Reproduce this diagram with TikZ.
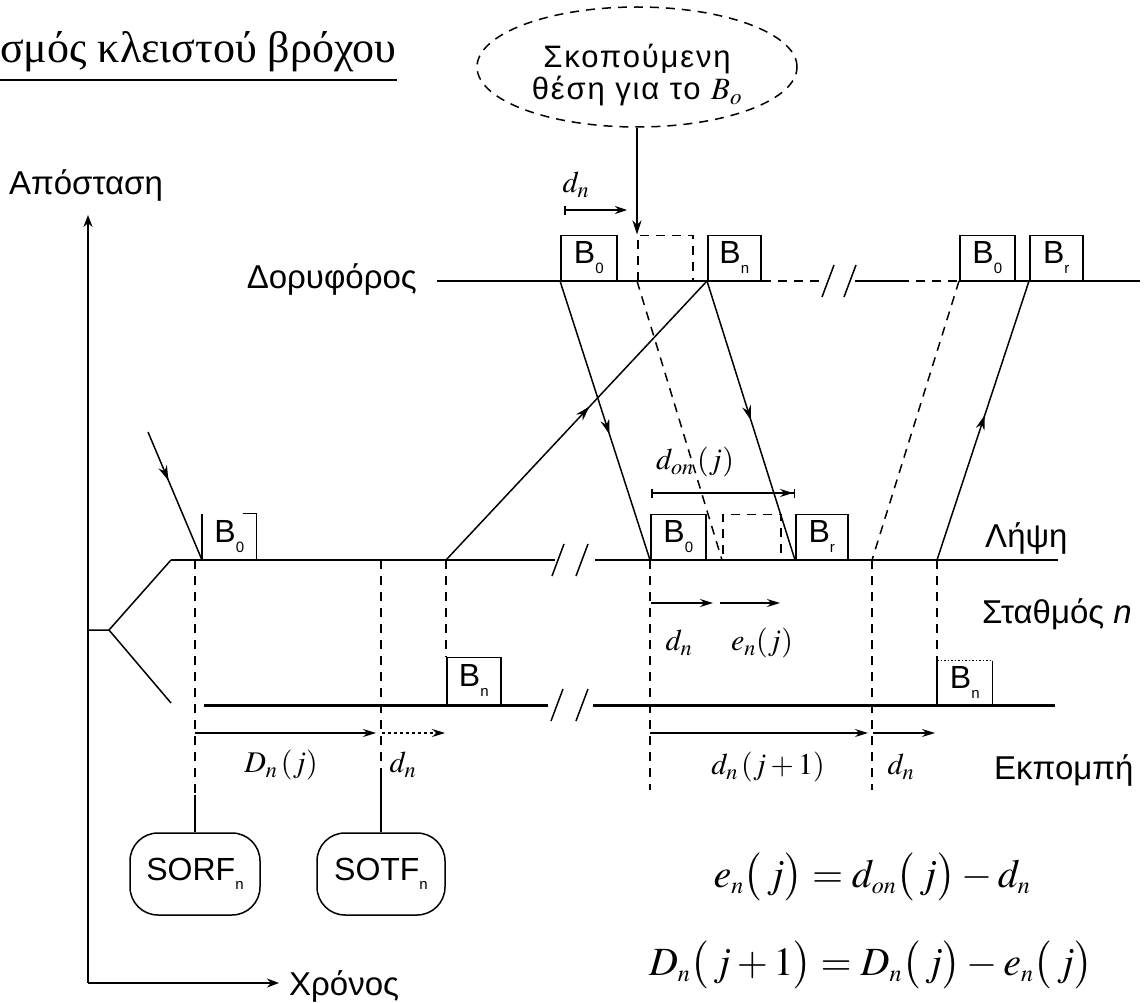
\documentclass[tikz,border=0pt]{standalone}
\usepackage{mathptmx}
\usepackage{fontspec}
\setmainfont{Liberation Serif}
\setsansfont{Liberation Sans}
\newfontfamily\widesans[LetterSpace=6]{Liberation Sans}
\usetikzlibrary{positioning, arrows.meta, shapes.geometric, decorations.markings}
\newcommand\ssub[1]{\raisebox{-0.3em}{\fontsize{15}{15}\selectfont #1}}
\tikzset{
    ln/.style={line width=1.5pt},
    dsh/.style={line width=1.5pt, dash pattern=on 9pt off 7pt},
    thickln/.style={line width=3pt},
    lbl/.style={font=\fontsize{33}{38}\selectfont\sffamily, inner sep=0pt},
    mlbl/.style={font=\fontsize{30}{36}\selectfont, inner sep=0pt},
    eqn/.style={font=\fontsize{40}{46}\selectfont, inner sep=0pt},
    bbox/.style={draw, line width=1.5pt, minimum width=#1, minimum height=45pt, inner sep=0pt,
        anchor=south west, font=\fontsize{32}{32}\selectfont\sffamily},
    fbox/.style={draw, line width=1.5pt, rounded corners=28pt, minimum width=130pt, minimum height=82pt,
        inner sep=0pt, font=\fontsize{32}{32}\selectfont\sffamily},
    arr/.style={line width=1.5pt, -{Stealth[length=13pt, width=8pt]}},
    marr/.style={postaction={decorate}, decoration={markings,
        mark=at position #1 with {\arrow{Stealth[length=15pt, width=9pt]}}}}
}
\begin{document}
\begin{tikzpicture}[x=1pt, y=-1pt]
    \useasboundingbox (0,0) rectangle (1145,1003);
    % title
    \node[font=\fontsize{44}{50}\selectfont, inner sep=0pt, anchor=base west] (title) at (0,63)
      {σμός κλειστού βρόχου};
    \draw[line width=2.5pt] ([yshift=-17pt]title.base west) -- ([yshift=-17pt]title.base east);
    % axes
    \coordinate (O) at (88,983);
    \draw[line width=2pt, -{Stealth[length=12pt, width=9pt]}] (O) -- (88,215) coordinate (ytop);
    \draw[line width=2pt, -{Stealth[length=12pt, width=9pt]}] (O) -- (279,983) coordinate (xend);
    \node[lbl, anchor=base] (dist) at (86,195) {Απόσταση};
    \node[lbl, anchor=base west] (time) at (289,995) {Χρόνος};
    \node[lbl, anchor=base east] (sat) at (417,288) {Δορυφόρος};
    \node[lbl, anchor=base west] (rx) at (985,547) {Λήψη};
    \node[lbl, anchor=base west] (stn) at (982,623) {Σταθμός \textit{n}};
    \node[lbl, anchor=base west] (tx) at (994,779) {Εκπομπή};
    % target ellipse
    \node[ellipse, draw, dsh, minimum width=320pt, minimum height=120pt, inner sep=0pt] (goal) at (637,67) {};
    \node[align=center, inner sep=0pt, font=\fontsize{31}{32}\selectfont\widesans] (goaltxt)
      at ([yshift=-8pt]goal.center) {Σκοπούμενη\\θέση για το $B_o$};
    % satellite boxes
    \node[bbox=56] (s0) at (560,281) {B\ssub{0}};
    \node[bbox=55, dsh] (sd) at (637,281) {};
    \node[bbox=53] (sn) at (707,281) {B\ssub{n}};
    \node[bbox=55] (s0r) at (959,281) {B\ssub{0}};
    \node[bbox=53] (snr) at (1029,281) {B\ssub{r}};
    % satellite line
    \draw[ln] (sat.east |- sn.south) ++(20,0) -- (sn.south east);
    \draw[dsh] (sn.south east) -- (820,281);
    \draw[ln] (828,281) ++(-6,16) -- ++(12,-32);
    \draw[ln] (850,281) ++(-6,16) -- ++(12,-32);
    \draw[ln] (855,281) -- (900,281);
    \draw[dsh] (900,281) -- (s0r.south west);
    \draw[ln] (s0r.south west) -- (1140,281);
    \draw[line width=2.5pt, -{Stealth[length=14pt, width=9pt]}] (goal.south) -- (sd.north west);
    \draw[arr, {Bar[width=9pt]}-{Stealth[length=12pt, width=8pt]}] (564,210) -- (627,210);
    \node[mlbl] (dtop) at (576,185) {$d_n$};
    % receive line
    \coordinate (rxL) at (171,560);
    \coordinate (fk) at (109,630);
    \draw[ln] (88,630) -- (fk) -- (rxL);
    \draw[ln] (fk) -- (171,703);
    \draw[ln] (rxL) -- (555,560);
    \draw[ln] (558,560) ++(-6,16) -- ++(12,-32);
    \draw[ln] (582,560) ++(-6,16) -- ++(12,-32);
    \draw[ln] (595,560) -- (1058,560);
    \node[bbox=53, draw=none] (rl) at (202,560) {B\ssub{0}};
    \draw[line width=2.5pt] (rl.south west) -- (rl.north west);
    \draw[ln] ([xshift=-14pt]rl.north east) -- (rl.north east) -- (rl.south east);
    \node[bbox=55] (r0) at (650,560) {B\ssub{0}};
    \node[bbox=58, dsh] (rd) at (722,560) {};
    \node[bbox=52] (rr) at (795,560) {B\ssub{r}};
    % transmit line
    \draw[thickln] (204,705) -- (548,705);
    \draw[ln] (557,705) ++(-6,16) -- ++(12,-32);
    \draw[ln] (582,705) ++(-6,16) -- ++(12,-32);
    \draw[thickln] (593,705) -- (1055,705);
    \node[bbox=54, minimum height=47pt] (tn) at (446,705) {B\ssub{n}};
    \node[bbox=54, minimum height=43pt, draw=none] (tnr) at (937,705) {B\ssub{n}};
    \draw[ln] (tnr.south west) -- (tnr.north west);
    \draw[ln, dotted] (tnr.north west) -- (tnr.north east);
    \draw[ln] (tnr.north east) -- (tnr.south east);
    % SORF / SOTF
    \node[fbox] (sorf) at (195,874) {SORF\ssub{n}};
    \node[fbox, minimum width=128pt] (sotf) at (381,874) {SOTF\ssub{n}};
    % time markers
    \draw[dsh] (195,560) -- (195,795);
    \draw[ln] (195,795) -- (sorf.north);
    \draw[dsh] (381,560) -- (381,777);
    \draw[ln] (381,777) -- (sotf.north);
    \draw[dsh] (446,560) -- (tn.north west);
    \draw[dsh] (r0.south west) -- (650,790);
    \draw[dsh] (872,560) -- (872,790);
    \draw[dsh] (937,560) -- (tnr.north west);
    % signal paths
    \draw[ln, marr=0.38] (148,432) -- (rl.south west);
    \draw[ln, marr=0.55] (446,560) -- (sn.south west);
    \draw[ln, marr=0.55] (s0.south west) -- (r0.south west);
    \draw[dsh] (sd.south west) -- (rd.south west);
    \draw[ln, marr=0.5] (sn.south west) -- (rr.south west);
    \draw[dsh] (s0r.south west) -- (872,560);
    \draw[ln, marr=0.52] (937,560) -- (snr.south west);
    % measurements
    \draw[ln, {Bar[width=9pt]}-{Bar[width=9pt]}] (651,493) -- (795,493);
    \draw[arr] (651,493) -- (793,493);
    \node[mlbl] (don) at (695,462) {$d_{on}\,(j)$};
    \draw[arr] (651,603) -- (713,603);
    \draw[arr] (720,603) -- (780,603);
    \node[mlbl] (dmid) at (679,643) {$d_n$};
    \node[mlbl] (emid) at (762,643) {$e_n(j)$};
    \draw[arr] (195,733) -- (376,733);
    \draw[arr, dashed] (382,733) -- (445,733);
    \node[mlbl] (Dj) at (281,765) {$D_n\,(j)$};
    \node[mlbl] (dl) at (403,765) {$d_n$};
    \draw[arr] (650,733) -- (868,733);
    \draw[arr] (873,733) -- (935,733);
    \node[mlbl] (dj1) at (768,767) {$d_n\,(j+1)$};
    \node[mlbl] (dr) at (901,767) {$d_n$};
    % equations
    \node[eqn] (eq1) at (872,877)
      {$e_{\scriptscriptstyle n}\bigl(\,j\bigr)=d_{\scriptscriptstyle on}\bigl(\,j\bigr)-d_{\scriptscriptstyle n}$};
    \node[eqn] (eq2) at (871,965)
      {$D_{\scriptscriptstyle n}\bigl(\,j+1\bigr)=D_{\scriptscriptstyle n}\bigl(\,j\bigr)-e_{\scriptscriptstyle n}\bigl(\,j\bigr)$};
\end{tikzpicture}
\end{document}
